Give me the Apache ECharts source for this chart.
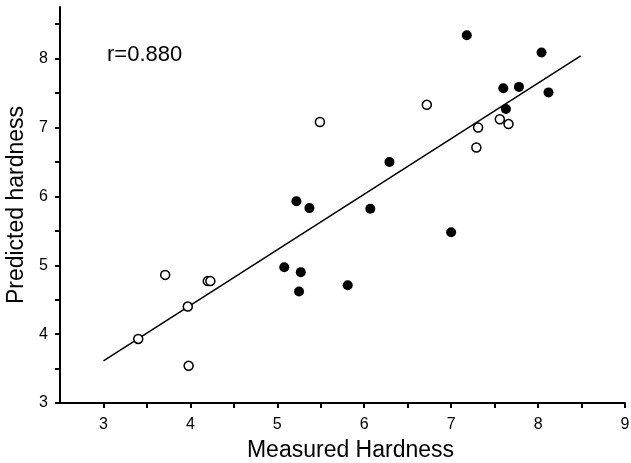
<!DOCTYPE html>
<html>
<head>
<meta charset="utf-8">
<script src="https://cdn.jsdelivr.net/npm/echarts@6/dist/echarts.min.js"></script>
<style>
  html, body { margin: 0; padding: 0; background: #fff; }
  #chart { width: 631px; height: 463px; }
</style>
</head>
<body>
<div id="chart"></div>
<script>
// open circles (measured, predicted)
var openPts = [
  [3.40, 3.93], [3.71, 4.86], [3.97, 4.40], [3.98, 3.54], [4.20, 4.77], [4.23, 4.77],
  [5.49, 7.08], [6.72, 7.33], [7.31, 7.00], [7.29, 6.71], [7.56, 7.12], [7.66, 7.05]
];
// filled circles
var filledPts = [
  [7.18, 8.34], [8.04, 8.09], [7.60, 7.57], [7.78, 7.59], [8.12, 7.51], [7.63, 7.27],
  [6.29, 6.50], [6.07, 5.82], [7.00, 5.48], [5.22, 5.93], [5.37, 5.83],
  [5.08, 4.97], [5.27, 4.90], [5.25, 4.62], [5.81, 4.71]
];
// regression line end points
var fitLine = [[3.0, 3.61], [8.49, 8.04]];

var xTicks = [3, 3.5, 4, 4.5, 5, 5.5, 6, 6.5, 7, 7.5, 8, 8.5, 9];
var xLabels = [3, 4, 5, 6, 7, 8, 9];
var yTicks = [3, 3.5, 4, 4.5, 5, 5.5, 6, 6.5, 7, 7.5, 8, 8.5];
var yLabels = [3, 4, 5, 6, 7, 8];

var font = 'Liberation Sans, Arial, sans-serif';

var myChart = echarts.init(document.getElementById('chart'));
var option = {
  animation: false,
  grid: { left: 60, right: 6, top: 7, bottom: 60, containLabel: false, outerBoundsMode: 'none' },
  xAxis: {
    type: 'value',
    min: 2.5,
    max: 9,
    name: 'Measured Hardness',
    nameLocation: 'middle',
    nameGap: 36,
    nameTextStyle: { color: '#000', fontSize: 23, fontFamily: font, padding: [0, 0, 0, 16] },
    axisLine: { show: true, lineStyle: { color: '#000', width: 2 } },
    axisTick: { show: true, length: 5, customValues: xTicks, lineStyle: { color: '#000', width: 2 } },
    axisLabel: { customValues: xLabels, color: '#000', fontSize: 16, fontFamily: font, margin: 14 },
    splitLine: { show: false }
  },
  yAxis: {
    type: 'value',
    min: 3,
    max: 8.75,
    name: 'Predicted hardness',
    nameLocation: 'middle',
    nameGap: 27,
    nameTextStyle: { color: '#000', fontSize: 23, fontFamily: font },
    axisLine: { show: true, lineStyle: { color: '#000', width: 2 } },
    axisTick: { show: true, length: 5, customValues: yTicks, lineStyle: { color: '#000', width: 2 } },
    axisLabel: { customValues: yLabels, color: '#000', fontSize: 16, fontFamily: font, margin: 12 },
    splitLine: { show: false }
  },
  graphic: [{
    type: 'text',
    left: 107,
    top: 44,
    style: { text: 'r=0.880', fill: '#000', font: '22px ' + font }
  }],
  series: [
    {
      type: 'line',
      data: fitLine,
      symbol: 'none',
      z: 1,
      lineStyle: { color: '#000', width: 1.5 }
    },
    {
      type: 'scatter',
      data: openPts,
      symbol: 'circle',
      symbolSize: 9,
      z: 2,
      itemStyle: { color: '#fff', borderColor: '#000', borderWidth: 1.5, opacity: 1 }
    },
    {
      type: 'scatter',
      data: filledPts,
      symbol: 'circle',
      symbolSize: 10,
      z: 3,
      itemStyle: { color: '#000', opacity: 1 }
    }
  ]
};
myChart.setOption(option);
window.addEventListener('resize', function () {
  myChart.resize();
});
</script>
</body>
</html>
